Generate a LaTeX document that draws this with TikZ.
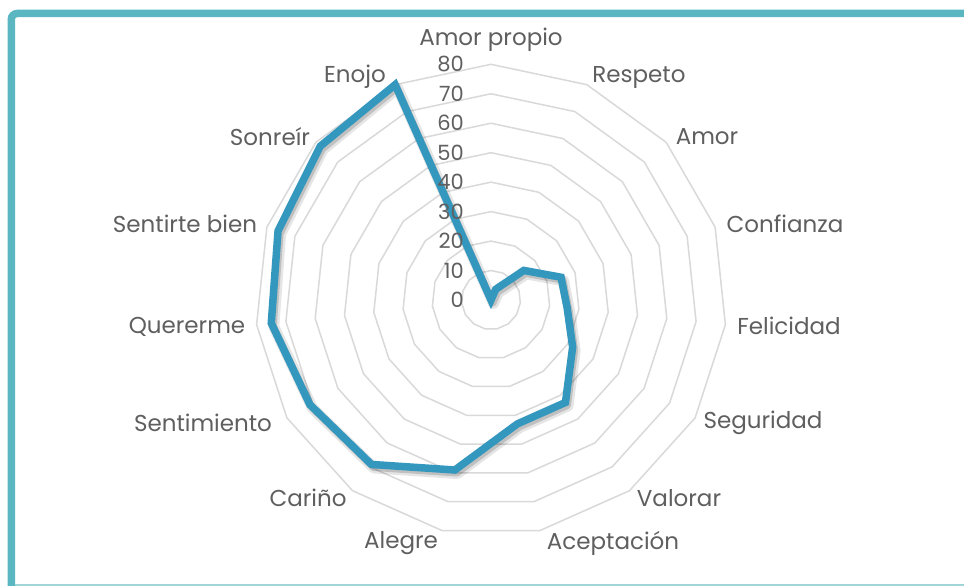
\documentclass[tikz,border=0pt]{standalone}
\usepackage{fontspec}
\setmainfont{Poppins}
\usetikzlibrary{calc}
\definecolor{cFrame}{RGB}{90, 183, 194}
\definecolor{cFrameLow}{RGB}{160, 212, 214}
\definecolor{cRing}{RGB}{217, 217, 217}
\definecolor{cData}{RGB}{52, 151, 190}
\definecolor{cText}{RGB}{95, 95, 95}
\tikzset{
    ringLine/.style={
        draw=cRing, line width=1.5pt, line join=miter
    },
    dataLine/.style={
        draw=cData, line width=7.5pt,
        line join=miter, miter limit=3
    },
    shadowLine/.style={
        draw=black, line join=round
    },
    catLabel/.style={
        font=\fontsize{23}{26}\selectfont, text=cText, inner sep=0pt
    },
    valLabel/.style={
        font=\fontsize{21}{24}\selectfont, text=cText, inner sep=0pt, anchor=east
    },
    frameLine/.style={
        draw=cFrame, line width=7.5pt, rounded corners=6pt
    }
}

\begin{document}
\begin{tikzpicture}[x=1pt, y=1pt]

	% =========================================================
	% Canvas and Frame
	% =========================================================

	\useasboundingbox (0,0) rectangle (964,586);
	\fill [white] (0,0) rectangle (964,586);

	\draw [frameLine] (970,572.5) -- (11.25,572.5) -- (11.25,-5);
	\draw [draw=cFrameLow, line width=1.5pt] (15,1) -- (964,1);

	\coordinate (c) at (491,286);

	% =========================================================
	% Grid Rings
	% =========================================================

	\foreach \r in {1,...,8} {
			\draw [ringLine] ($(c)+(90:{\r*29.46})$)
				\foreach \k in {1,...,14} { -- ($(c)+({90-24*\k}:{\r*29.46})$) } -- cycle;
		}

	% =========================================================
	% Data Series
	% =========================================================

	\foreach \v [count=\i from 0] in {0,4,15,25,26,32,43,43,59,69,71,75,76,78,80} {
			\coordinate (d\i) at ($(c)+({90-24*\i}:{\v*2.946})$);
		}

	\draw [shadowLine, opacity=0.10, line width=11pt, transform canvas={shift={(2.5pt,-3.5pt)}}]
		(d0) \foreach \i in {1,...,14} { -- (d\i) } -- cycle;
	\draw [shadowLine, opacity=0.16, line width=7pt, transform canvas={shift={(2pt,-3pt)}}]
		(d0) \foreach \i in {1,...,14} { -- (d\i) } -- cycle;

	\draw [dataLine] (d0) \foreach \i in {1,...,14} { -- (d\i) } -- cycle;

	% =========================================================
	% Axis Values
	% =========================================================

	\foreach \v in {0,10,...,80} {
			\node [valLabel] (val\v) at (464,{286+\v*2.946}) {\v};
		}

	% =========================================================
	% Category Labels
	% =========================================================

	\node [catLabel] (amorPropio)   at (491,546) {Amor propio};
	\node [catLabel] (respeto)      at (639,509) {Respeto};
	\node [catLabel] (amor)         at (707,449) {Amor};
	\node [catLabel] (confianza)    at (785,362) {Confianza};
	\node [catLabel] (felicidad)    at (789,260) {Felicidad};
	\node [catLabel] (seguridad)    at (763,163) {Seguridad};
	\node [catLabel] (valorar)      at (679,88)  {Valorar};
	\node [catLabel] (aceptacion)   at (613,43)  {Aceptación};
	\node [catLabel] (alegre)       at (401,43)  {Alegre};
	\node [catLabel] (carino)       at (308,88)  {Cariño};
	\node [catLabel] (sentimiento)  at (203,163) {Sentimiento};
	\node [catLabel] (quererme)     at (187,259) {Quererme};
	\node [catLabel] (sentirteBien) at (185,362) {Sentirte bien};
	\node [catLabel] (sonreir)      at (270,449) {Sonreír};
	\node [catLabel] (enojo)        at (355,509) {Enojo};

\end{tikzpicture}
\end{document}
